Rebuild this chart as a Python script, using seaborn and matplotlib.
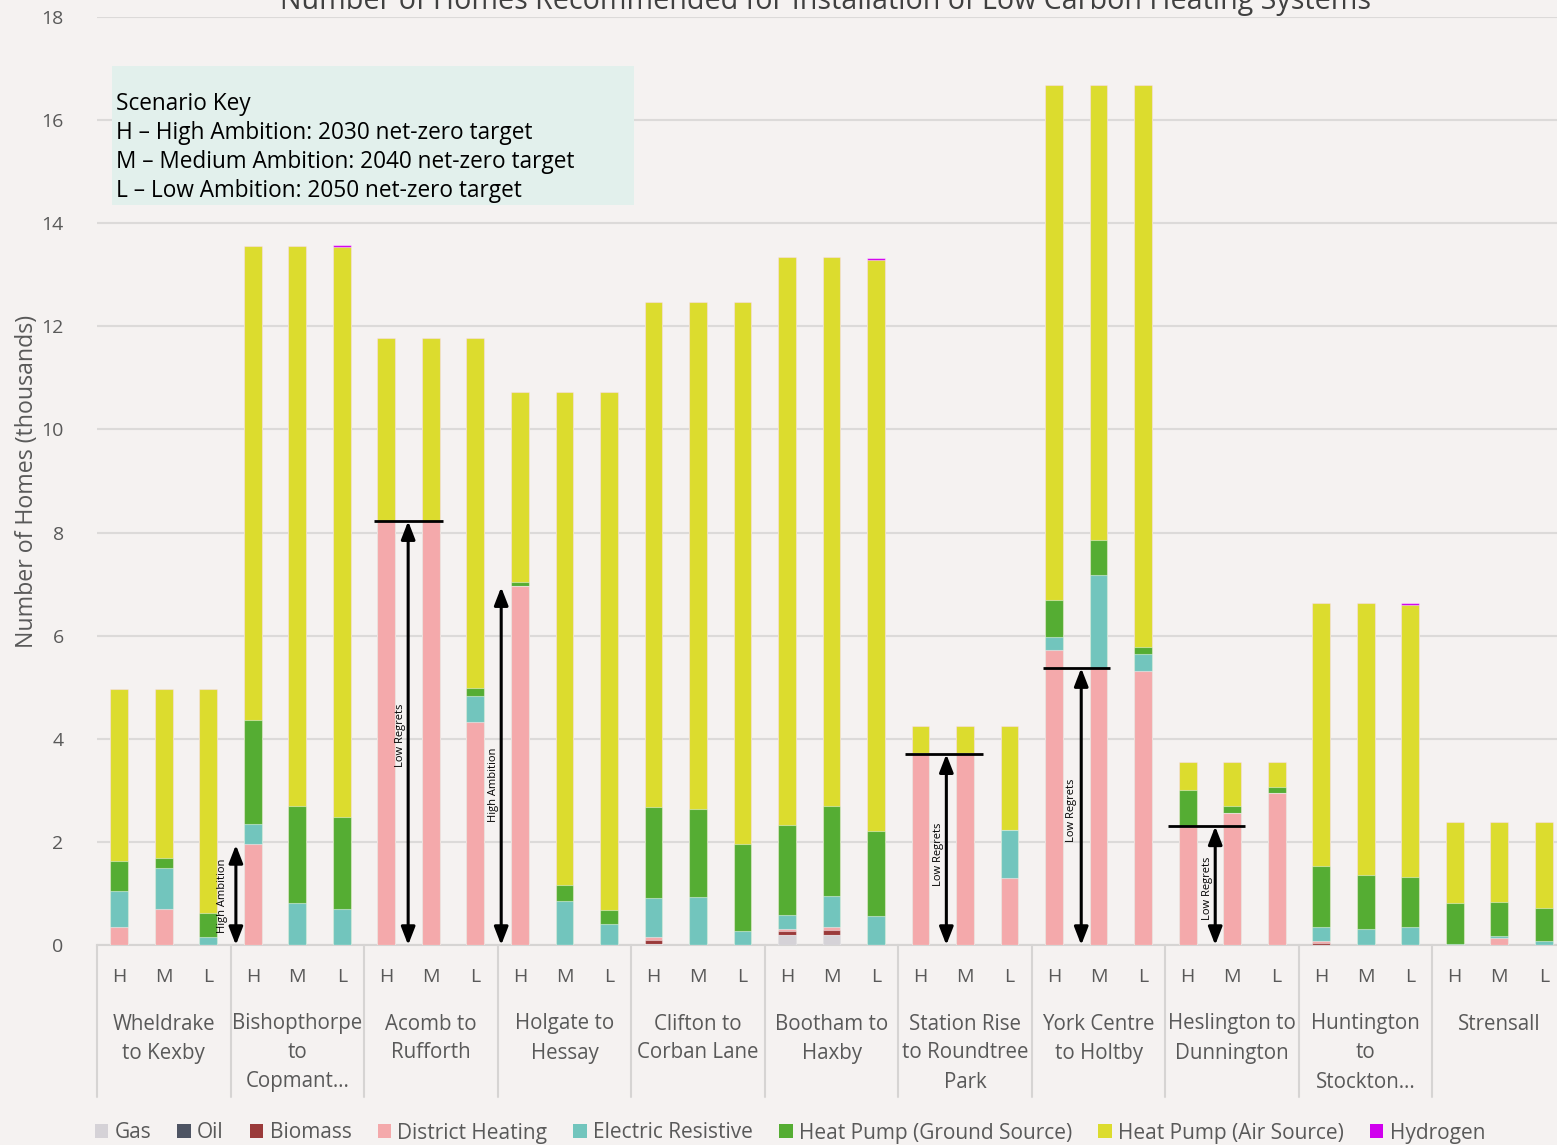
import numpy as np
import pandas as pd
import matplotlib
matplotlib.use("Agg")
import matplotlib.pyplot as plt
import matplotlib.transforms as mtransforms
from matplotlib.patches import Patch, Rectangle
from matplotlib.lines import Line2D
import seaborn as sns

# ---------------- data ----------------
regions = ["Wheldrake\nto Kexby", "Bishopthorpe\nto\nCopmant…", "Acomb to\nRufforth",
           "Holgate to\nHessay", "Clifton to\nCorban Lane", "Bootham to\nHaxby",
           "Station Rise\nto Roundtree\nPark", "York Centre\nto Holtby",
           "Heslington to\nDunnington", "Huntington\nto\nStockton…", "Strensall"]
scenarios = ["H", "M", "L"]

gas = [0, 0, 0,  0, 0, 0,  0, 0, 0,  0, 0, 0,  0.02, 0, 0,  0.19, 0.20, 0,
       0, 0, 0,  0, 0, 0,  0, 0, 0,  0, 0, 0,  0, 0, 0]
oil = [0, 0, 0,  0, 0, 0,  0, 0, 0,  0, 0, 0,  0, 0, 0,  0, 0, 0,
       0, 0, 0,  0, 0, 0,  0, 0, 0,  0, 0, 0,  0, 0, 0]
biomass = [0, 0, 0,  0, 0, 0,  0, 0, 0,  0, 0, 0,  0.08, 0, 0,  0.09, 0.10, 0,
           0, 0, 0,  0, 0, 0,  0, 0, 0,  0.03, 0, 0,  0, 0, 0]
district_heating = [0.34, 0.70, 0,  1.95, 0, 0,  8.22, 8.22, 4.32,  6.96, 0, 0,
                    0.05, 0, 0,  0.04, 0.04, 0,  3.72, 3.72, 1.30,  5.73, 5.37, 5.32,
                    2.29, 2.57, 2.95,  0.05, 0, 0,  0, 0.13, 0]
electric_resistive = [0.71, 0.79, 0.16,  0.40, 0.82, 0.70,  0, 0, 0.51,  0, 0.85, 0.40,
                      0.76, 0.93, 0.27,  0.26, 0.62, 0.57,  0, 0, 0.93,  0.24, 1.81, 0.32,
                      0, 0, 0,  0.26, 0.32, 0.35,  0.02, 0.05, 0.08]
hp_ground = [0.58, 0.20, 0.47,  2.01, 1.88, 1.78,  0, 0, 0.15,  0.08, 0.32, 0.28,
             1.77, 1.71, 1.69,  1.75, 1.73, 1.65,  0, 0, 0,  0.73, 0.68, 0.14,
             0.72, 0.13, 0.12,  1.19, 1.04, 0.96,  0.79, 0.66, 0.64]
hp_air = [3.34, 3.28, 4.34,  9.19, 10.85, 11.05,  3.56, 3.56, 6.80,  3.68, 9.55, 10.04,
          9.80, 9.84, 10.52,  11.01, 10.65, 11.06,  0.52, 0.52, 2.01,  9.98, 8.82, 10.90,
          0.53, 0.84, 0.47,  5.10, 5.27, 5.29,  1.57, 1.54, 1.66]
hydrogen = [0, 0, 0,  0, 0, 0.04,  0, 0, 0,  0, 0, 0,  0, 0, 0,  0, 0, 0.05,
            0, 0, 0,  0, 0, 0,  0, 0, 0,  0, 0, 0.04,  0, 0, 0]

series_names = ["Gas", "Oil", "Biomass", "District Heating", "Electric Resistive",
                "Heat Pump (Ground Source)", "Heat Pump (Air Source)", "Hydrogen"]
series_values = [gas, oil, biomass, district_heating, electric_resistive,
                 hp_ground, hp_air, hydrogen]
series_colors = ["#d5d2d7", "#4e5463", "#9a3a3a", "#f4a9ab", "#72c5bd",
                 "#55ad33", "#dcdc2e", "#d000ee"]

title = "Number of Homes Recommended for Installation of Low Carbon Heating Systems"

# ---------------- figure ----------------
W, H = 1557, 1145
bg = "#f5f2f1"
grey = "#595959"

sns.set_theme(style="white")
plt.rcParams["font.family"] = ["Open Sans", "DejaVu Sans"]

fig = plt.figure(figsize=(W / 100, H / 100), dpi=100, facecolor=bg)
ax = fig.add_axes([97 / W, 1 - 945 / H, 1469 / W, 928 / H])
ax.set_facecolor(bg)

n = len(regions) * len(scenarios)
df = pd.DataFrame({"slot": list(range(n))})
cum = np.zeros(n)
cum_cols = []
for name, vals in zip(series_names, series_values):
    cum = cum + np.array(vals, dtype=float)
    df["cum_" + name] = cum
    cum_cols.append("cum_" + name)

# draw stacked bars from the top layer down (each lower cumulative covers the one above)
for col, color in reversed(list(zip(cum_cols, series_colors))):
    sns.barplot(data=df, x="slot", y=col, color=color, saturation=1, width=0.4,
                errorbar=None, ax=ax, edgecolor=(1, 1, 1, 0.45), linewidth=0.8, zorder=3)

ax.set_xlim(-0.5, n - 0.5)
ax.set_ylim(0, 18)
ax.set_xlabel("")
ax.set_ylabel("")
ax.set_xticks([])
ax.set_yticks(range(0, 19, 2))
ax.tick_params(axis="y", length=0, pad=24, labelsize=14, labelcolor=grey)
ax.yaxis.grid(True, color="#dcdad9", lw=1.5, zorder=0)
ax.set_axisbelow(True)
for s in ["top", "right", "left"]:
    ax.spines[s].set_visible(False)
ax.spines["bottom"].set_color("#d6d4d3")
ax.spines["bottom"].set_linewidth(1.5)

# category axis (two levels)
tr = mtransforms.blended_transform_factory(ax.transData, fig.transFigure)
def fy(p):
    return 1 - p / H

for i in range(n):
    ax.text(i, fy(977), scenarios[i % 3], transform=tr, ha="center", va="center",
            fontsize=14, color=grey)
for g, lab in enumerate(regions):
    cx = g * 3 + 1
    for k, line in enumerate(lab.split("\n")):
        ax.text(cx, fy(1024 + 29 * k), line, transform=tr, ha="center", va="center",
                fontsize=14.8, color=grey)
for g in range(len(regions) + 1):
    xb = g * 3 - 0.5
    ax.add_line(Line2D([xb, xb], [fy(945), fy(1097)], transform=tr, color="#d6d4d3",
                       lw=1.5, clip_on=False))

# annotations
arrow_kw = dict(arrowstyle="<|-|>,head_length=0.9,head_width=0.35", color="black",
                lw=2.2, shrinkA=0, shrinkB=0)
def double_arrow(x, top):
    ax.annotate("", xy=(x, top), xytext=(x, 0), arrowprops=arrow_kw,
                annotation_clip=False, zorder=6)

def hline(x0, x1, y):
    ax.plot([x0, x1], [y, y], color="black", lw=2, zorder=6, solid_capstyle="butt")

def vlabel(x, y, s):
    ax.text(x, y, s, rotation=90, ha="center", va="center", fontsize=8,
            color="black", zorder=7)

double_arrow(2.62, 1.94); vlabel(2.31, 0.95, "High Ambition")
hline(5.72, 7.28, 8.22); double_arrow(6.49, 8.22); vlabel(6.31, 4.07, "Low Regrets")
double_arrow(8.58, 6.94); vlabel(8.40, 3.10, "High Ambition")
hline(17.66, 19.41, 3.70); double_arrow(18.58, 3.70); vlabel(18.40, 1.75, "Low Regrets")
hline(20.76, 22.26, 5.37); double_arrow(21.61, 5.37); vlabel(21.39, 2.62, "Low Regrets")
hline(23.57, 25.28, 2.30); double_arrow(24.62, 2.30); vlabel(24.44, 1.10, "Low Regrets")

# scenario key box
fig.patches.append(Rectangle((112 / W, fy(205)), (634 - 112) / W, (205 - 66) / H,
                             transform=fig.transFigure, facecolor="#e2f0ec",
                             edgecolor="none", zorder=1))
key_lines = ["Scenario Key", "H – High Ambition: 2030 net-zero target",
             "M – Medium Ambition: 2040 net-zero target",
             "L – Low Ambition: 2050 net-zero target"]
for k, line in enumerate(key_lines):
    fig.text(116 / W, fy(104 + 29 * k), line, ha="left", va="center", fontsize=16.3,
             color="black", zorder=2)

# title (partly cut by the top edge as in the reference)
fig.text(826 / W, fy(9), title, ha="center", va="baseline", fontsize=20.6, color="#404040")

# y label
fig.text(27 / W, fy(481), "Number of Homes (thousands)", rotation=90, ha="center",
         va="center", fontsize=16.7, color=grey)

# legend
handles = [Patch(facecolor=c, edgecolor="none") for c in series_colors]
leg = fig.legend(handles, series_names, loc="center", bbox_to_anchor=(790 / W, fy(1133)),
                 ncol=8, frameon=False, fontsize=15, handlelength=0.65, handleheight=0.65,
                 handletextpad=0.3, columnspacing=1.25, borderaxespad=0)
for t in leg.get_texts():
    t.set_color(grey)

fig.savefig("out.png", dpi=100, facecolor=bg)
